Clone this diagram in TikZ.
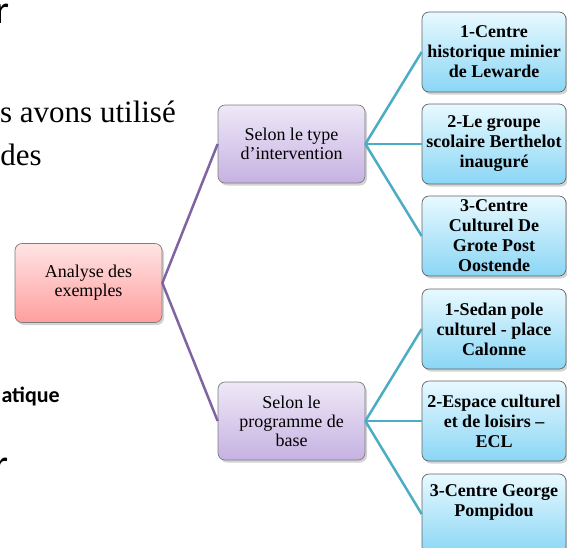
\documentclass[tikz,border=0pt]{standalone}
\usepackage{fontspec}
\setmainfont{Liberation Serif}
\newfontfamily\pagesans{Carlito}
\usepackage{xcolor}
\usetikzlibrary{shadows}
\definecolor{rootTop}{RGB}{255,228,228}
\definecolor{rootBottom}{RGB}{255,158,158}
\definecolor{midTop}{RGB}{238,232,247}
\definecolor{midBottom}{RGB}{198,178,226}
\definecolor{leafTop}{RGB}{232,249,255}
\definecolor{leafBottom}{RGB}{138,214,245}
\definecolor{linkPurple}{RGB}{128,100,162}
\definecolor{linkTeal}{RGB}{75,172,198}
\definecolor{boxGray}{RGB}{125,125,125}

\tikzset{
  box/.style={rounded corners=7pt, draw=boxGray, line width=0.7pt, align=center,
    inner sep=1.5pt, font=\fontsize{18}{19}\selectfont,
    drop shadow={shadow xshift=2pt, shadow yshift=-2.5pt, opacity=0.35}},
  boxroot/.style={box, minimum width=147pt, minimum height=79pt,
    top color=rootTop, bottom color=rootBottom},
  boxmid/.style={box, minimum width=147pt, minimum height=78pt,
    top color=midTop, bottom color=midBottom},
  boxleaf/.style={box, draw=boxGray!80!black, minimum width=144pt, minimum height=80pt,
    top color=leafTop, bottom color=leafBottom,
    font=\bfseries\fontsize{18}{20}\selectfont},
  linkroot/.style={linkPurple, line width=2.5pt},
  linkmid/.style={linkTeal, line width=2.5pt},
  pagetext/.style={anchor=base east, inner sep=0pt}
}

\begin{document}
\begin{tikzpicture}[x=1pt, y=-1pt]
\useasboundingbox (0,0) rectangle (567,547);

% text of the page behind
\node[pagetext, font=\pagesans\fontsize{40}{40}\selectfont] (pgr) at (10,23) {r};
\node[pagetext, font=\fontsize{31}{31}\selectfont] (pgavons) at (176,122) {s avons utilisé};
\node[pagetext, font=\fontsize{31}{31}\selectfont] (pgdes) at (42,165) {des};
\node[pagetext, font=\pagesans\bfseries\fontsize{22}{22}\selectfont] (pgatique) at (60,402) {atique};
\node[pagetext, font=\pagesans\fontsize{40}{40}\selectfont] (pgrb) at (9,477) {r};

% boxes
\node[boxroot] (root) at (88.5,283) {Analyse des\\exemples};
\node[boxmid] (typ) at (291.5,144) {Selon le type\\d’intervention};
\node[boxmid] (prog) at (291.5,421) {Selon le\\programme de\\base};

\node[boxleaf] (l1) at (494,52) {1-Centre\\historique minier\\de Lewarde};
\node[boxleaf] (l2) at (494,144) {2-Le groupe\\scolaire Berthelot\\inauguré};
\node[boxleaf] (l3) at (494,236) {3-Centre\\Culturel De\\Grote Post\\Oostende};
\node[boxleaf] (l4) at (494,329) {1-Sedan pole\\culturel - place\\Calonne};
\node[boxleaf] (l5) at (494,421) {2-Espace culturel\\et de loisirs –\\ECL};
\node[boxleaf, text depth=27pt] (l6) at (494,514) {3-Centre George\\Pompidou};

% connectors
\draw[linkroot] (root.east) -- (typ.west);
\draw[linkroot] (root.east) -- (prog.west);
\foreach \leaf in {l1,l2,l3}
  \draw[linkmid] (typ.east) -- (\leaf.west);
\foreach \leaf in {l4,l5,l6}
  \draw[linkmid] (prog.east) -- (\leaf.west);
\end{tikzpicture}
\end{document}
